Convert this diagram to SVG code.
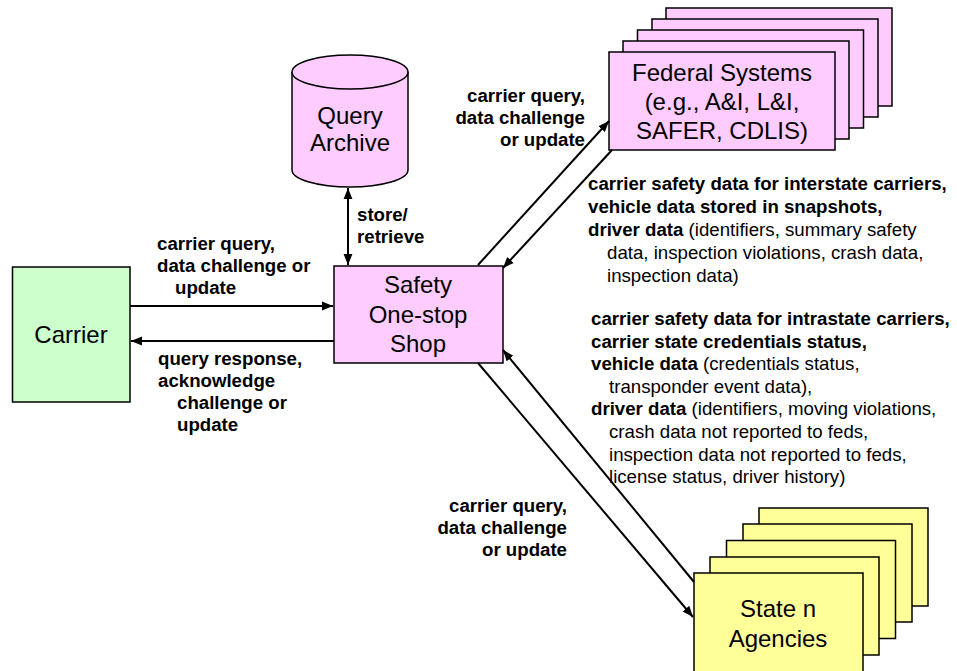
<svg xmlns="http://www.w3.org/2000/svg" width="957" height="671" viewBox="0 0 957 671">
<defs>
<marker id="ah" viewBox="0 0 10 10" refX="10" refY="5" markerWidth="11" markerHeight="11" markerUnits="userSpaceOnUse" orient="auto-start-reverse">
<path d="M0,1 L10,5 L0,9 Z" fill="#000"/>
</marker>
<style>
.node{font-family:"Liberation Sans",Arial,sans-serif;font-size:24px;fill:#000;text-anchor:middle}
.lbl{font-family:"Liberation Sans",Arial,sans-serif;font-size:18.67px;fill:#000;font-weight:bold}
.reg{font-weight:normal}
.end{text-anchor:end}
.pink{fill:#ffccff;stroke:#000;stroke-width:1.5}
.yellow{fill:#ffff99;stroke:#000;stroke-width:1.5}
.green{fill:#ccffcc;stroke:#000;stroke-width:1.5}
.conn{stroke:#000;stroke-width:2;fill:none}
</style>
</defs>
<rect width="957" height="671" fill="#fff"/>

<g id="federal">
<rect class="pink" x="666" y="8" width="226" height="98"/>
<rect class="pink" x="652" y="19" width="226" height="98"/>
<rect class="pink" x="637.5" y="30" width="226" height="98"/>
<rect class="pink" x="623" y="41" width="226" height="98"/>
<rect class="pink" x="609" y="52" width="226" height="98"/>
<text class="node" x="722" y="81">Federal Systems</text>
<text class="node" x="722" y="110">(e.g., A&amp;I, L&amp;I,</text>
<text class="node" x="722" y="139">SAFER, CDLIS)</text>
</g>

<g id="state">
<rect class="yellow" x="759" y="508" width="169" height="98"/>
<rect class="yellow" x="743" y="524" width="169" height="98"/>
<rect class="yellow" x="726.5" y="540.5" width="169" height="98"/>
<rect class="yellow" x="710" y="557" width="169" height="98"/>
<rect class="yellow" x="694" y="573" width="169" height="100"/>
<text class="node" x="778" y="617">State n</text>
<text class="node" x="778" y="647">Agencies</text>
</g>

<g id="archive">
<path class="pink" d="M292,72 L292,170 A58,17 0 0 0 408,170 L408,72 A58,17 0 0 0 292,72 Z"/>
<path class="pink" d="M292,72 A58,17 0 0 0 408,72" fill="none"/>
<text class="node" x="350" y="124">Query</text>
<text class="node" x="350" y="151">Archive</text>
</g>

<g id="carrier">
<rect class="green" x="12.5" y="267" width="117.5" height="135"/>
<text class="node" x="71" y="343">Carrier</text>
</g>

<g id="sos">
<rect class="pink" x="334" y="266" width="169" height="97"/>
<text class="node" x="418" y="293">Safety</text>
<text class="node" x="418" y="323">One-stop</text>
<text class="node" x="418" y="352">Shop</text>
</g>

<g id="connectors">
<line class="conn" x1="348" y1="188" x2="348" y2="265" marker-start="url(#ah)" marker-end="url(#ah)"/>
<line class="conn" x1="130" y1="306" x2="333" y2="306" marker-end="url(#ah)"/>
<line class="conn" x1="334" y1="341" x2="131" y2="341" marker-end="url(#ah)"/>
<line class="conn" x1="478" y1="265" x2="609" y2="121" marker-end="url(#ah)"/>
<line class="conn" x1="612" y1="150" x2="503" y2="268" marker-end="url(#ah)"/>
<line class="conn" x1="478" y1="363" x2="693" y2="617" marker-end="url(#ah)"/>
<line class="conn" x1="694" y1="582" x2="503" y2="350" marker-end="url(#ah)"/>
</g>

<g id="labels">
<text class="lbl" x="357" y="221">store/</text>
<text class="lbl" x="357" y="243">retrieve</text>

<text class="lbl" x="157" y="250">carrier query,</text>
<text class="lbl" x="157" y="272">data challenge or</text>
<text class="lbl" x="175" y="294">update</text>

<text class="lbl" x="158" y="365">query response,</text>
<text class="lbl" x="158" y="387">acknowledge</text>
<text class="lbl" x="177" y="409">challenge or</text>
<text class="lbl" x="177" y="431">update</text>

<text class="lbl end" x="585" y="102">carrier query,</text>
<text class="lbl end" x="585" y="124">data challenge</text>
<text class="lbl end" x="585" y="146">or update</text>

<text class="lbl end" x="567" y="512">carrier query,</text>
<text class="lbl end" x="567" y="534">data challenge</text>
<text class="lbl end" x="567" y="556">or update</text>

<text class="lbl" x="588" y="190">carrier safety data for interstate carriers,</text>
<text class="lbl" x="588" y="213">vehicle data stored in snapshots,</text>
<text class="lbl" x="588" y="236">driver data<tspan class="reg"> (identifiers, summary safety</tspan></text>
<text class="lbl reg" x="607" y="258.5">data, inspection violations, crash data,</text>
<text class="lbl reg" x="607" y="281.5">inspection data)</text>

<text class="lbl" x="591" y="325">carrier safety data for intrastate carriers,</text>
<text class="lbl" x="591" y="347.6">carrier state credentials status,</text>
<text class="lbl" x="591" y="370.2">vehicle data<tspan class="reg"> (credentials status,</tspan></text>
<text class="lbl reg" x="609" y="392.8">transponder event data),</text>
<text class="lbl" x="591" y="415.4">driver data<tspan class="reg"> (identifiers, moving violations,</tspan></text>
<text class="lbl reg" x="609" y="438">crash data not reported to feds,</text>
<text class="lbl reg" x="609" y="460.6">inspection data not reported to feds,</text>
<text class="lbl reg" x="609" y="483.2">license status, driver history)</text>
</g>
</svg>
